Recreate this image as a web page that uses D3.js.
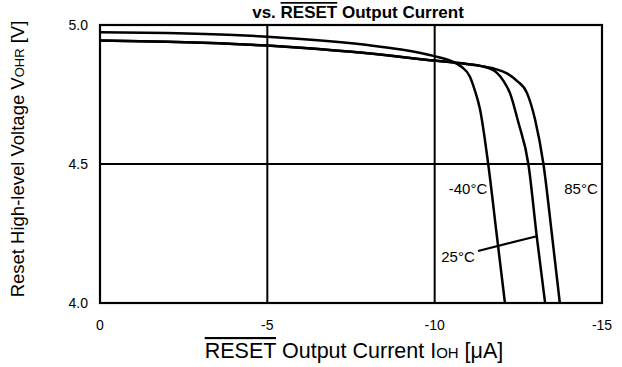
<!DOCTYPE html>
<html><head><meta charset="utf-8">
<script src="https://cdn.jsdelivr.net/npm/d3@7"></script>
<style>body{margin:0;background:#fff;} text{font-family:"Liberation Sans",Arial,sans-serif;}</style>
</head><body>
<svg id="c" width="622" height="367"></svg>
<script>
const xTicks = [0, -5, -10, -15];
const yTicks = [4.0, 4.5, 5.0];
const xTickLabels = ["0", "-5", "-10", "-15"];
const yTickLabels = ["4.0", "4.5", "5.0"];

const curveM40 = [[0,4.974],[-2,4.971],[-4,4.964],[-5,4.958],[-6,4.950],[-8,4.928],[-9,4.912],[-10,4.888],[-10.5,4.870],[-10.8,4.850],[-11.05,4.815],[-11.2,4.765],[-11.35,4.70],[-11.6,4.50],[-11.85,4.25],[-12.1,4.0]];
const curve25 = [[0,4.944],[-2,4.940],[-4,4.932],[-5,4.926],[-6,4.918],[-8,4.898],[-10,4.872],[-10.8,4.862],[-11.4,4.852],[-11.65,4.843],[-11.86,4.828],[-12.05,4.800],[-12.25,4.755],[-12.5,4.65],[-12.8,4.50],[-13.05,4.24],[-13.3,4.0]];
const curve85 = [[0,4.944],[-2,4.940],[-4,4.932],[-5,4.926],[-6,4.918],[-8,4.898],[-10,4.872],[-10.8,4.862],[-11.4,4.852],[-11.8,4.842],[-12.16,4.826],[-12.45,4.800],[-12.76,4.755],[-13.0,4.66],[-13.25,4.50],[-13.5,4.25],[-13.74,4.0]];
const seriesNames = ["-40°C","25°C","85°C"];

const svg = d3.select("#c");
const L=100, R=602, T=25, B=303;
const x = d3.scaleLinear().domain([0,-15]).range([L,R]);
const y = d3.scaleLinear().domain([4.0,5.0]).range([B,T]);

// title
const title = svg.append("text").attr("x",358).attr("y",18).attr("text-anchor","middle")
  .attr("font-size",17).attr("font-weight","bold");
title.append("tspan").text("vs. ");
title.append("tspan").attr("text-decoration","overline").text("RESET");
title.append("tspan").text(" Output Current");

// grid
const g = svg.append("g");
g.selectAll("line.v").data(xTicks).join("line")
  .attr("x1",d=>x(d)).attr("x2",d=>x(d)).attr("y1",T).attr("y2",B)
  .attr("stroke","#000").attr("stroke-width",2);
g.selectAll("line.h").data(yTicks).join("line")
  .attr("y1",d=>y(d)).attr("y2",d=>y(d)).attr("x1",L).attr("x2",R)
  .attr("stroke","#000").attr("stroke-width",2);
g.append("rect").attr("x",L).attr("y",T).attr("width",R-L).attr("height",B-T)
  .attr("fill","none").attr("stroke","#000").attr("stroke-width",2.2);

// tick labels
svg.selectAll("text.xt").data(xTicks).join("text").attr("class","xt")
  .attr("x",d=>x(d)).attr("y",330).attr("text-anchor","middle").attr("font-size",14)
  .text((d,i)=>xTickLabels[i]);
svg.selectAll("text.yt").data(yTicks).join("text").attr("class","yt")
  .attr("x",88).attr("y",d=>y(d)+5).attr("text-anchor","end").attr("font-size",14)
  .text((d,i)=>yTickLabels[i]);

// curves
const line = d3.line().x(d=>x(d[0])).y(d=>y(d[1])).curve(d3.curveMonotoneX);
[curveM40, curve25, curve85].forEach(c=>{
  svg.append("path").datum(c).attr("d",line).attr("fill","none")
    .attr("stroke","#000").attr("stroke-width",2.5);
});

// labels
svg.append("text").attr("x",468).attr("y",194).attr("text-anchor","middle").attr("font-size",15).text(seriesNames[0]);
svg.append("text").attr("x",581).attr("y",194).attr("text-anchor","middle").attr("font-size",15).text(seriesNames[2]);
svg.append("text").attr("x",458).attr("y",262).attr("text-anchor","middle").attr("font-size",15).text(seriesNames[1]);
svg.append("line").attr("x1",478).attr("y1",251).attr("x2",x(-13.05)).attr("y2",y(4.24))
  .attr("stroke","#000").attr("stroke-width",2.2);

// axis titles
const xl = svg.append("text").attr("x",354).attr("y",358).attr("text-anchor","middle").attr("font-size",21.5);
xl.append("tspan").attr("text-decoration","overline").text("RESET");
xl.append("tspan").text(" Output Current I");
xl.append("tspan").attr("font-size",15).text("OH");
xl.append("tspan").text(" [μA]");

const yl = svg.append("text").attr("transform","translate(24,159) rotate(-90)")
  .attr("text-anchor","middle").attr("font-size",18.5);
yl.append("tspan").text("Reset High-level Voltage V");
yl.append("tspan").attr("font-size",13).text("OHR");
yl.append("tspan").text(" [V]");
</script>
</body></html>
